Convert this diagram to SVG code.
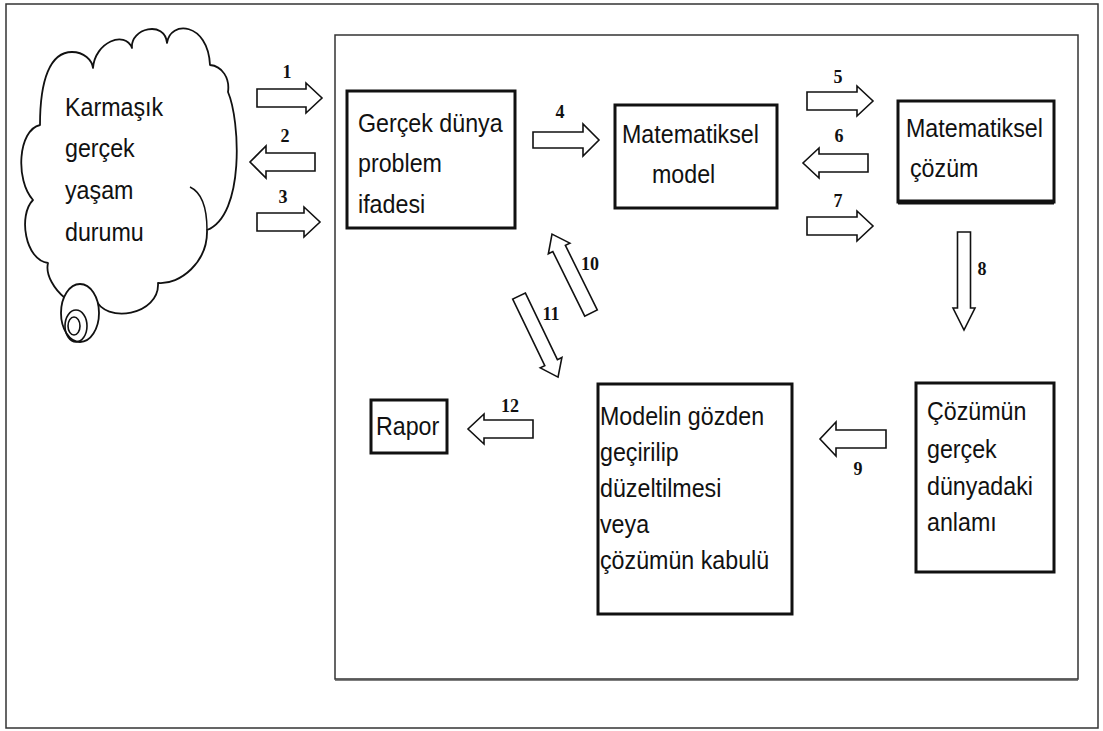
<svg xmlns="http://www.w3.org/2000/svg" width="1103" height="731" viewBox="0 0 1103 731">
<defs>
<style>
.frame{fill:none;stroke:#333;stroke-width:1.5}
.box{fill:#fff;stroke:#111;stroke-width:3}
.t{font-family:"Liberation Sans",Arial,sans-serif;font-size:25px;fill:#111}
.n{font-family:"Liberation Serif","Times New Roman",serif;font-weight:bold;font-size:18px;fill:#111;text-anchor:middle}
.arr{fill:#fff;stroke:#111;stroke-width:1.6;stroke-linejoin:miter}
.cloud{fill:#fff;stroke:#111;stroke-width:1.8;stroke-linejoin:round}
</style>
</defs>
<rect width="1103" height="731" fill="#fff"/>
<rect class="frame" x="6" y="4" width="1092" height="724"/>
<rect class="frame" x="335" y="35" width="743" height="644"/>
<line x1="335" y1="680" x2="1078" y2="680" stroke="#555" stroke-width="1.5"/>

<g id="cloud">
<path class="cloud" d="M40,125 C40,80 50,52 72,52 C84,52 92,60 93,68 C95,42 125,30 132,48 C130,28 165,20 167,43 C170,20 208,22 210,65 C222,66 230,78 228,92 C240,120 245,215 207,230 C208,262 180,285 158,283 C160,315 105,325 95,298 L80,310 L65,298 C55,290 45,275 48,263 C25,260 18,215 33,200 C15,180 18,130 40,125 Z"/>
<path d="M190,187 Q207,195 207,230" fill="none" stroke="#111" stroke-width="1.5"/>
<ellipse class="cloud" cx="80" cy="313" rx="19" ry="29"/>
<ellipse cx="76" cy="326" rx="11" ry="16" fill="none" stroke="#111" stroke-width="1.6"/>
<ellipse cx="74" cy="326" rx="6" ry="9" fill="none" stroke="#111" stroke-width="1.6"/>
<text class="t" transform="translate(65,116) scale(0.93,1)">Karmaşık</text>
<text class="t" transform="translate(65,157) scale(0.93,1)">gerçek</text>
<text class="t" transform="translate(65,199) scale(0.93,1)">yaşam</text>
<text class="t" transform="translate(65,241) scale(0.93,1)">durumu</text>
</g>

<g id="problem">
<rect class="box" x="347" y="91" width="168" height="137"/>
<text class="t" transform="translate(358,132) scale(0.93,1)">Gerçek dünya</text>
<text class="t" transform="translate(358,172) scale(0.93,1)">problem</text>
<text class="t" transform="translate(358,213) scale(0.93,1)">ifadesi</text>
</g>

<g id="model">
<rect class="box" x="615" y="105" width="162" height="103"/>
<text class="t" transform="translate(622,143) scale(0.93,1)">Matematiksel</text>
<text class="t" transform="translate(652,183) scale(0.93,1)">model</text>
</g>

<g id="cozum">
<rect class="box" x="898" y="101" width="156" height="101"/>
<line x1="898" y1="202" x2="1054" y2="202" stroke="#111" stroke-width="5"/>
<text class="t" transform="translate(906,137) scale(0.93,1)">Matematiksel</text>
<text class="t" transform="translate(910,177) scale(0.93,1)">çözüm</text>
</g>

<g id="anlam">
<rect class="box" x="916" y="383" width="138" height="189"/>
<text class="t" transform="translate(927,420) scale(0.93,1)">Çözümün</text>
<text class="t" transform="translate(927,458) scale(0.93,1)">gerçek</text>
<text class="t" transform="translate(927,495) scale(0.93,1)">dünyadaki</text>
<text class="t" transform="translate(927,531) scale(0.93,1)">anlamı</text>
</g>

<g id="gozden">
<rect class="box" x="598" y="384" width="194" height="230"/>
<text class="t" transform="translate(600,425) scale(0.93,1)">Modelin gözden</text>
<text class="t" transform="translate(600,461) scale(0.93,1)">geçirilip</text>
<text class="t" transform="translate(600,497) scale(0.93,1)">düzeltilmesi</text>
<text class="t" transform="translate(600,533) scale(0.93,1)">veya</text>
<text class="t" transform="translate(600,569) scale(0.93,1)">çözümün kabulü</text>
</g>

<g id="rapor">
<rect class="box" x="371" y="400" width="76" height="53"/>
<text class="t" transform="translate(376,435) scale(0.93,1)">Rapor</text>
</g>

<g id="connectors">
<polygon class="arr" points="257,89 306,89 306,83 322,98 306,113 306,107 257,107"/>
<polygon class="arr" points="315,153 266,153 266,146 250,162 266,178 266,171 315,171"/>
<polygon class="arr" points="257,213 304,213 304,207 320,222 304,237 304,231 257,231"/>
<polygon class="arr" points="533,132 583,132 583,124 599,140 583,156 583,148 533,148"/>
<polygon class="arr" points="807,92 857,92 857,86 873,101 857,116 857,110 807,110"/>
<polygon class="arr" points="868,154 819,154 819,148 803,163 819,178 819,172 868,172"/>
<polygon class="arr" points="807,217 857,217 857,211 873,226 857,241 857,235 807,235"/>
<polygon class="arr" points="957.5,232 970.5,232 970.5,308 975,308 964,330 953,308 957.5,308"/>
<polygon class="arr" points="886,430 836,430 836,422 820,439 836,456 836,448 886,448"/>
<polygon class="arr" points="533,420 484,420 484,414 468,429 484,444 484,438 533,438"/>
<polygon class="arr" transform="translate(591,313) rotate(-116.3)" points="0,-7 72,-7 72,-12 88,0 72,12 72,7 0,7"/>
<polygon class="arr" transform="translate(519,296) rotate(64.3)" points="0,-7 74,-7 74,-12 90,0 74,12 74,7 0,7"/>
<text class="n" x="287" y="78">1</text>
<text class="n" x="285" y="142">2</text>
<text class="n" x="283" y="203">3</text>
<text class="n" x="560" y="118">4</text>
<text class="n" x="838" y="83">5</text>
<text class="n" x="839" y="142">6</text>
<text class="n" x="838" y="207">7</text>
<text class="n" x="982" y="275">8</text>
<text class="n" x="858" y="475">9</text>
<text class="n" x="590" y="270">10</text>
<text class="n" x="551" y="320">11</text>
<text class="n" x="510" y="412">12</text>
</g>
</svg>
